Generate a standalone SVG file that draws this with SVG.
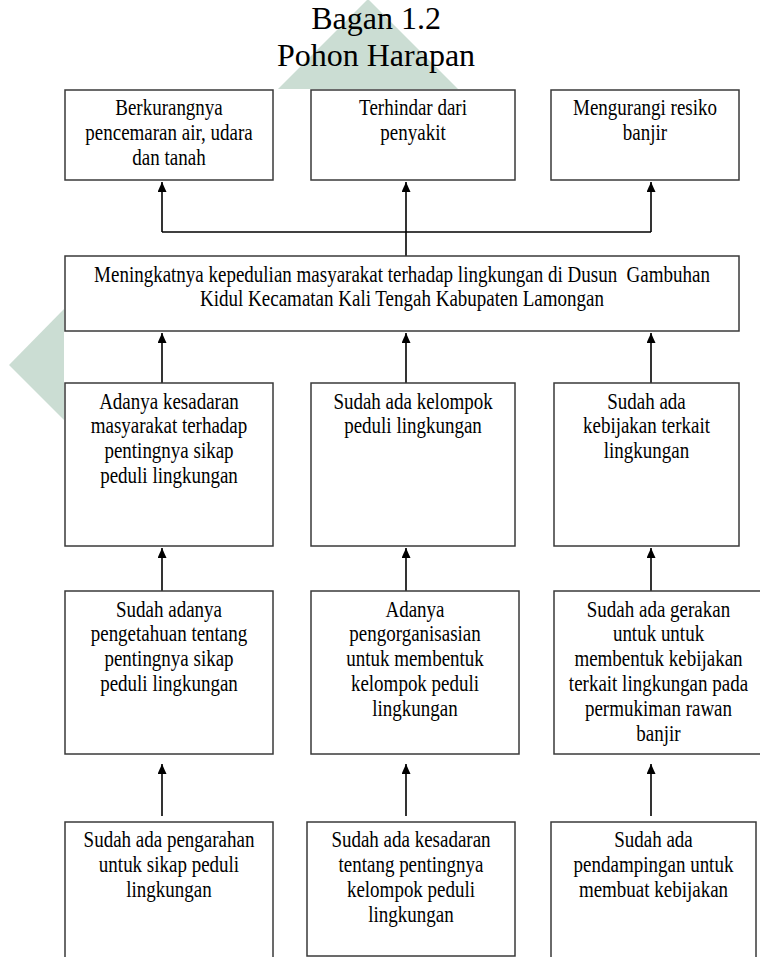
<svg xmlns="http://www.w3.org/2000/svg" width="760" height="957" viewBox="0 0 760 957">
<defs>
<style>
.box{fill:#fff;stroke:#3a3a3a;stroke-width:1.5}
.t{font-family:"Liberation Serif","Times New Roman",serif;font-size:19px;fill:#000;text-anchor:middle}
.title{font-family:"Liberation Serif","Times New Roman",serif;font-size:32px;fill:#000;text-anchor:middle}
.ln{fill:none;stroke:#000;stroke-width:1.6}
.wm{fill:#cbddd3}
</style>
<marker id="ah" markerUnits="userSpaceOnUse" markerWidth="11" markerHeight="9" refX="10" refY="4.5" orient="auto">
<path d="M0,0 L10,4.5 L0,9 z" fill="#000"/>
</marker>
</defs>
<rect x="0" y="0" width="760" height="957" fill="#fff"/>
<g id="watermark">
<polygon class="wm" points="278,89 368,-1 458,89"/>
<polygon class="wm" points="64,309 9,365 64,420"/>
</g>
<rect x="64" y="89" width="700" height="870" fill="#fff"/>
<g id="title">
<text class="title" x="376" y="29">Bagan 1.2</text>
<text class="title" x="376" y="66">Pohon Harapan</text>
</g>
<g id="connectors">
<polyline class="ln" points="162,232 651,232"/>
<line class="ln" x1="162" y1="232" x2="162" y2="182" marker-end="url(#ah)"/>
<line class="ln" x1="651" y1="232" x2="651" y2="182" marker-end="url(#ah)"/>
<line class="ln" x1="406" y1="256" x2="406" y2="182" marker-end="url(#ah)"/>
<line class="ln" x1="162" y1="383" x2="162" y2="333" marker-end="url(#ah)"/>
<line class="ln" x1="406" y1="383" x2="406" y2="333" marker-end="url(#ah)"/>
<line class="ln" x1="651" y1="383" x2="651" y2="333" marker-end="url(#ah)"/>
<line class="ln" x1="162" y1="598" x2="162" y2="548" marker-end="url(#ah)"/>
<line class="ln" x1="406" y1="598" x2="406" y2="548" marker-end="url(#ah)"/>
<line class="ln" x1="651" y1="598" x2="651" y2="548" marker-end="url(#ah)"/>
<line class="ln" x1="162" y1="816" x2="162" y2="764" marker-end="url(#ah)"/>
<line class="ln" x1="406" y1="816" x2="406" y2="764" marker-end="url(#ah)"/>
<line class="ln" x1="651" y1="816" x2="651" y2="764" marker-end="url(#ah)"/>
</g>
<g id="n1">
<rect class="box" x="65" y="90" width="208" height="90"/>
<text class="t" transform="translate(169 115) scale(1 1.18)">Berkurangnya</text>
<text class="t" transform="translate(169 140) scale(1 1.18)">pencemaran air, udara</text>
<text class="t" transform="translate(169 165) scale(1 1.18)">dan tanah</text>
</g>
<g id="n2">
<rect class="box" x="311" y="90" width="204" height="90"/>
<text class="t" transform="translate(413 115) scale(1 1.18)">Terhindar dari</text>
<text class="t" transform="translate(413 140) scale(1 1.18)">penyakit</text>
</g>
<g id="n3">
<rect class="box" x="551" y="90" width="188" height="90"/>
<text class="t" transform="translate(645 115) scale(1 1.18)">Mengurangi resiko</text>
<text class="t" transform="translate(645 140) scale(1 1.18)">banjir</text>
</g>
<g id="n4">
<rect class="box" x="65" y="256" width="674" height="75"/>
<text class="t" transform="translate(402 282) scale(1 1.18)" xml:space="preserve">Meningkatnya kepedulian masyarakat terhadap lingkungan di Dusun  Gambuhan</text>
<text class="t" transform="translate(402 306) scale(1 1.18)">Kidul Kecamatan Kali Tengah Kabupaten Lamongan</text>
</g>
<g id="n5">
<rect class="box" x="65" y="383" width="208" height="163"/>
<text class="t" transform="translate(169 409) scale(1 1.18)">Adanya kesadaran</text>
<text class="t" transform="translate(169 433) scale(1 1.18)">masyarakat terhadap</text>
<text class="t" transform="translate(169 458) scale(1 1.18)">pentingnya sikap</text>
<text class="t" transform="translate(169 483) scale(1 1.18)">peduli lingkungan</text>
</g>
<g id="n6">
<rect class="box" x="311" y="383" width="204" height="163"/>
<text class="t" transform="translate(413 409) scale(1 1.18)">Sudah ada kelompok</text>
<text class="t" transform="translate(413 433) scale(1 1.18)">peduli lingkungan</text>
</g>
<g id="n7">
<rect class="box" x="554" y="383" width="185" height="163"/>
<text class="t" transform="translate(646.5 409) scale(1 1.18)">Sudah ada</text>
<text class="t" transform="translate(646.5 433) scale(1 1.18)">kebijakan terkait</text>
<text class="t" transform="translate(646.5 458) scale(1 1.18)">lingkungan</text>
</g>
<g id="n8">
<rect class="box" x="65" y="591" width="208" height="163"/>
<text class="t" transform="translate(169 617) scale(1 1.18)">Sudah adanya</text>
<text class="t" transform="translate(169 641) scale(1 1.18)">pengetahuan tentang</text>
<text class="t" transform="translate(169 666) scale(1 1.18)">pentingnya sikap</text>
<text class="t" transform="translate(169 691) scale(1 1.18)">peduli lingkungan</text>
</g>
<g id="n9">
<rect class="box" x="311" y="591" width="208" height="163"/>
<text class="t" transform="translate(415 617) scale(1 1.18)">Adanya</text>
<text class="t" transform="translate(415 641) scale(1 1.18)">pengorganisasian</text>
<text class="t" transform="translate(415 666) scale(1 1.18)">untuk membentuk</text>
<text class="t" transform="translate(415 691) scale(1 1.18)">kelompok peduli</text>
<text class="t" transform="translate(415 716) scale(1 1.18)">lingkungan</text>
</g>
<g id="n10">
<rect class="box" x="554" y="591" width="209" height="163"/>
<text class="t" transform="translate(658.5 617) scale(1 1.18)">Sudah ada gerakan</text>
<text class="t" transform="translate(658.5 641) scale(1 1.18)">untuk untuk</text>
<text class="t" transform="translate(658.5 666) scale(1 1.18)">membentuk kebijakan</text>
<text class="t" transform="translate(658.5 691) scale(1 1.18)">terkait lingkungan pada</text>
<text class="t" transform="translate(658.5 716) scale(1 1.18)">permukiman rawan</text>
<text class="t" transform="translate(658.5 741) scale(1 1.18)">banjir</text>
</g>
<g id="n11">
<rect class="box" x="65" y="822" width="208" height="140"/>
<text class="t" transform="translate(169 847) scale(1 1.18)">Sudah ada pengarahan</text>
<text class="t" transform="translate(169 872) scale(1 1.18)">untuk sikap peduli</text>
<text class="t" transform="translate(169 897) scale(1 1.18)">lingkungan</text>
</g>
<g id="n12">
<rect class="box" x="307" y="822" width="208" height="134"/>
<text class="t" transform="translate(411 847) scale(1 1.18)">Sudah ada kesadaran</text>
<text class="t" transform="translate(411 872) scale(1 1.18)">tentang pentingnya</text>
<text class="t" transform="translate(411 897) scale(1 1.18)">kelompok peduli</text>
<text class="t" transform="translate(411 922) scale(1 1.18)">lingkungan</text>
</g>
<g id="n13">
<rect class="box" x="551" y="822" width="205" height="140"/>
<text class="t" transform="translate(653.5 847) scale(1 1.18)">Sudah ada</text>
<text class="t" transform="translate(653.5 872) scale(1 1.18)">pendampingan untuk</text>
<text class="t" transform="translate(653.5 897) scale(1 1.18)">membuat kebijakan</text>
</g>
</svg>
